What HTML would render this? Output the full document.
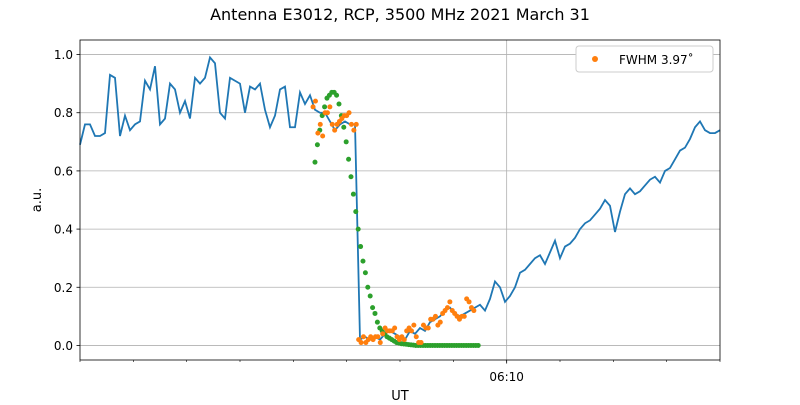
<!DOCTYPE html>
<html><head><meta charset="utf-8"><style>
body{margin:0;background:#fff;font-family:"Liberation Sans","DejaVu Sans",sans-serif}
svg text{font-family:"DejaVu Sans","Liberation Sans",sans-serif}
</style></head><body>
<svg id="c" width="800" height="400" xmlns="http://www.w3.org/2000/svg">
<rect width="800" height="400" fill="#fff"/>
<text x="400" y="20" text-anchor="middle" font-size="16">Antenna E3012, RCP, 3500 MHz 2021 March 31</text>
<g id="grid"></g><g id="series"></g><g id="axes"></g>
<text x="400" y="400" text-anchor="middle" font-size="13">UT</text>
<text transform="translate(41,200) rotate(-90)" text-anchor="middle" font-size="13">a.u.</text>
<g>
<rect x="576" y="46" width="137" height="26" rx="3" fill="#fff" stroke="#ccc"/>
<circle cx="595" cy="59" r="3" fill="#ff7f0e"/>
<text x="619" y="64" font-size="12">FWHM 3.97˚</text>
</g>
</svg>
<script>
const blueValues=[.69,.76,.76,.72,.72,.73,.93,.92,.72,.79,.74,.76,.77,.91,.88,.96,.76,.78,.90,.88,.80,.84,.78,.92,.90,.92,.99,.97,.80,.78,.92,.91,.90,.80,.89,.88,.90,.81,.75,.79,.88,.89,.75,.75,.87,.83,.86,.81,.80,.80,.77,.74,.76,.77,.76,.76,.02,.03,.02,.03,.02,.04,.05,.04,.03,.02,.05,.04,.06,.05,.08,.09,.10,.12,.13,.11,.10,.11,.12,.13,.14,.12,.16,.22,.20,.15,.17,.20,.25,.26,.28,.30,.31,.28,.32,.36,.30,.34,.35,.37,.40,.42,.43,.45,.47,.50,.48,.39,.46,.52,.54,.52,.53,.55,.57,.58,.56,.60,.61,.64,.67,.68,.71,.75,.77,.74,.73,.73,.74];
const greenValues=[.63,.69,.74,.79,.82,.85,.86,.87,.87,.86,.83,.79,.75,.70,.64,.58,.52,.46,.40,.34,.29,.25,.20,.17,.13,.11,.08,.06,.05,.04,.03,.025,.02,.015,.01,.008,.006,.005,.004,.003,.002,.001,0,0,0,0,0,0,0,0,0,0,0,0,0,0,0,0,0,0,0,0,0,0,0,0,0,0,0];
const orangeValues=[.82,.84,.73,.76,.72,.80,.80,.82,.76,.74,.76,.77,.78,.79,.79,.80,.76,.74,.76,.02,.01,.03,.01,.02,.03,.02,.03,.03,.01,.04,.06,.05,.05,.05,.06,.03,.02,.03,.02,.05,.06,.05,.07,.03,.01,.01,.07,.06,.06,.09,.09,.10,.07,.08,.11,.12,.13,.15,.12,.11,.10,.09,.10,.10,.16,.15,.13,.12];
const yTicks=[0,0.2,0.4,0.6,0.8,1.0];
const xTickLabels=["06:10"];
const xTickMinutes=[10];
const blueStart=2, blueStep=0.09375;
const greenStart=6.406, greenStep=0.045;
const orangeStart=6.37, orangeStep=0.045;
const X0=80,X1=720,Y0=40,Y1=360,tMin=2,tMax=14,vMin=-0.05,vMax=1.05;
const sx=t=>X0+(t-tMin)/(tMax-tMin)*(X1-X0);
const sy=v=>Y1-(v-vMin)/(vMax-vMin)*(Y1-Y0);
const NS="http://www.w3.org/2000/svg";
function mk(tag,attrs,parent){const e=document.createElementNS(NS,tag);for(const k in attrs)e.setAttribute(k,attrs[k]);parent.appendChild(e);return e;}
const grid=document.getElementById('grid'),ser=document.getElementById('series'),ax=document.getElementById('axes');
yTicks.forEach(v=>{const y=sy(v);
const g=mk('line',{x1:X0,x2:X1,y1:y,y2:y,stroke:'#b0b0b0','stroke-width':0.8},grid);


mk('line',{x1:X0-3.5,x2:X0,y1:y,y2:y,stroke:'#000','stroke-width':0.8},ax);
const t=mk('text',{x:X0-7,y:y+4.5,'text-anchor':'end','font-size':12},ax);t.textContent=v.toFixed(1);

});
xTickMinutes.forEach((m,i)=>{const x=sx(m);
const g=mk('line',{x1:x,x2:x,y1:Y0,y2:Y1,stroke:'#b0b0b0','stroke-width':0.8},grid);


mk('line',{x1:x,x2:x,y1:Y1,y2:Y1+3.5,stroke:'#000','stroke-width':0.8},ax);
const t=mk('text',{x:x,y:Y1+21,'text-anchor':'middle','font-size':12},ax);t.textContent=xTickLabels[i];

});
for(let m=tMin;m<=tMax;m++){const x=sx(m);mk('line',{x1:x,x2:x,y1:Y1,y2:Y1+2,stroke:'#000','stroke-width':0.6},ax);}
const r=mk('rect',{x:X0,y:Y0,width:X1-X0,height:Y1-Y0,fill:'none',stroke:'#000','stroke-width':0.8},ax);


let d='';blueValues.forEach((v,i)=>{d+=(i?'L':'M')+sx(blueStart+i*blueStep).toFixed(2)+','+sy(v).toFixed(2);});
const p=mk('path',{d:d,fill:'none',stroke:'#1f77b4','stroke-width':1.8},ser);


greenValues.forEach((v,i)=>{const c=mk('circle',{cx:sx(greenStart+i*greenStep),cy:sy(v),r:2.5,fill:'#2ca02c'},ser);

});
orangeValues.forEach((v,i)=>{const c=mk('circle',{cx:sx(orangeStart+i*orangeStep),cy:sy(v),r:2.5,fill:'#ff7f0e'},ser);

});
</script>
</body></html>
